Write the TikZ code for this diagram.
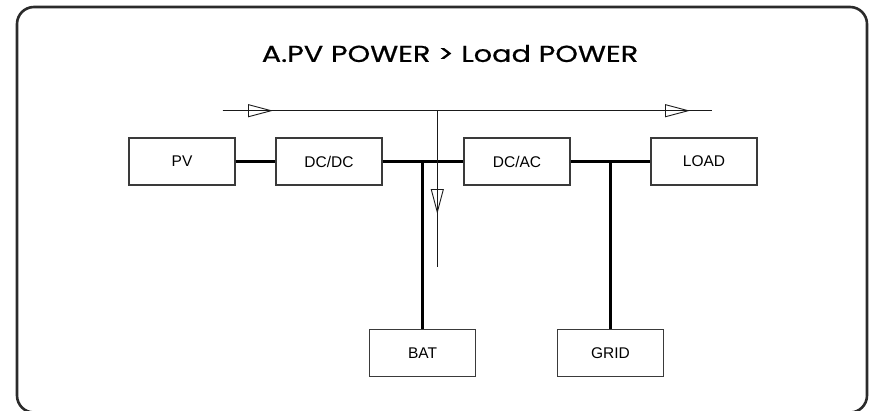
\documentclass[tikz,border=0pt]{standalone}
\usepackage{fontspec}
\setmainfont{Liberation Sans}
\newfontfamily\titlefont[FakeStretch=1.25,FakeBold=0.7]{Poppins}
\usetikzlibrary{arrows.meta,positioning}
\definecolor{ink}{HTML}{1A1A1A}
\definecolor{edge}{HTML}{2B2B2B}
\definecolor{boxline}{HTML}{3A3A3A}

\begin{document}
\begin{tikzpicture}[x=1pt,y=-1pt,
  unit/.style={draw=boxline,line width=1.2pt,fill=white,minimum width=106pt,
               minimum height=47pt,inner sep=0pt,font=\fontsize{15.5}{18}\selectfont},
  bus/.style={draw=black,line width=2.4pt},
  flow/.style={draw=ink,line width=0.9pt},
  tri/.style={-{Triangle[open,length=25pt,width=13pt,line width=0.9pt]},draw=ink,line width=0.9pt}]
  \useasboundingbox (0,0) rectangle (876,410);
  % outer frame and title
  \draw[edge,line width=2.6pt,rounded corners=17pt] (17,7) rectangle (867,412.5);
  \node[font=\titlefont\fontsize{23}{27}\selectfont] (title) at (450,53.5) {A.PV POWER > Load POWER};
  % blocks
  \node[unit] (pv)   at (182,161.5)   {PV};
  \node[unit] (dcdc) at (329,161.5)   {DC/DC};
  \node[unit] (dcac) at (517,161.5)   {DC/AC};
  \node[unit] (load) at (704,161.5)   {LOAD};
  \node[unit] (bat)  at (422.5,353)   {BAT};
  \node[unit] (grid) at (610.5,353)   {GRID};
  % bus lines
  \coordinate (jb) at (422.5,161.5);
  \coordinate (jg) at (610.5,161.5);
  \draw[bus] (pv.east) -- (dcdc.west);
  \draw[bus] (dcdc.east) -- (dcac.west);
  \draw[bus] (dcac.east) -- (load.west);
  \draw[bus] (jb) -- (bat.north);
  \draw[bus] (jg) -- (grid.north);
  % power flow
  \coordinate (fs) at (222.7,110.7);
  \coordinate (fe) at (711.7,110.7);
  \coordinate (fx) at (437.3,110.7);
  \coordinate (fb) at (437.3,266.7);
  \coordinate (a1) at (273,110.7);
  \coordinate (a2) at (690,110.7);
  \coordinate (a3) at (437.3,214);
  \draw[flow] (fs) -- (fe);
  \draw[flow] (fx) -- (fb);
  \draw[tri] (fs) -- (a1);
  \draw[tri] (fx) -- (a2);
  \draw[tri] (fx) -- (a3);
\end{tikzpicture}
\end{document}
